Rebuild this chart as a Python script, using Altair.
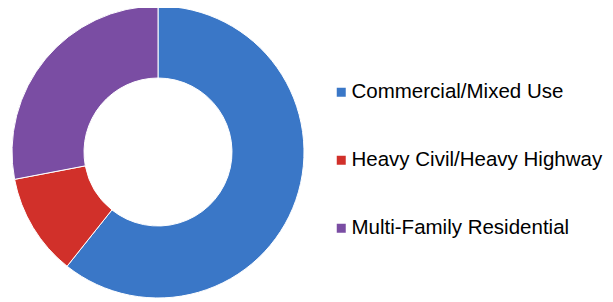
import altair as alt
import pandas as pd

categories = ["Commercial/Mixed Use", "Heavy Civil/Heavy Highway", "Multi-Family Residential"]
values = [60.7, 11.3, 28.0]
colors = ["#3A77C7", "#D1302A", "#7A4DA3"]

df = pd.DataFrame({"category": categories, "value": values, "order": [0, 1, 2]})

chart = alt.Chart(df).mark_arc(outerRadius=146, innerRadius=74, stroke="white", strokeWidth=1).encode(
    theta=alt.Theta("value:Q", stack=True),
    order=alt.Order("order:Q"),
    x=alt.value(150),
    y=alt.value(144),
    color=alt.Color(
        "category:N",
        scale=alt.Scale(domain=categories, range=colors),
        legend=alt.Legend(
            title=None,
            orient="none",
            legendX=323,
            legendY=74,
            symbolType="square",
            symbolSize=81,
            symbolStrokeWidth=0,
            labelFont="Arial",
            labelFontSize=20.5,
            labelColor="#000000",
            labelLimit=400,
            rowPadding=47,
            labelOffset=0,
        ),
    ),
).properties(
    width=597, height=294
).configure_view(stroke=None).properties(
    autosize=alt.AutoSizeParams(type="none"), padding=0
)

chart.save("out.html", embed_options={"renderer": "svg", "actions": False})
